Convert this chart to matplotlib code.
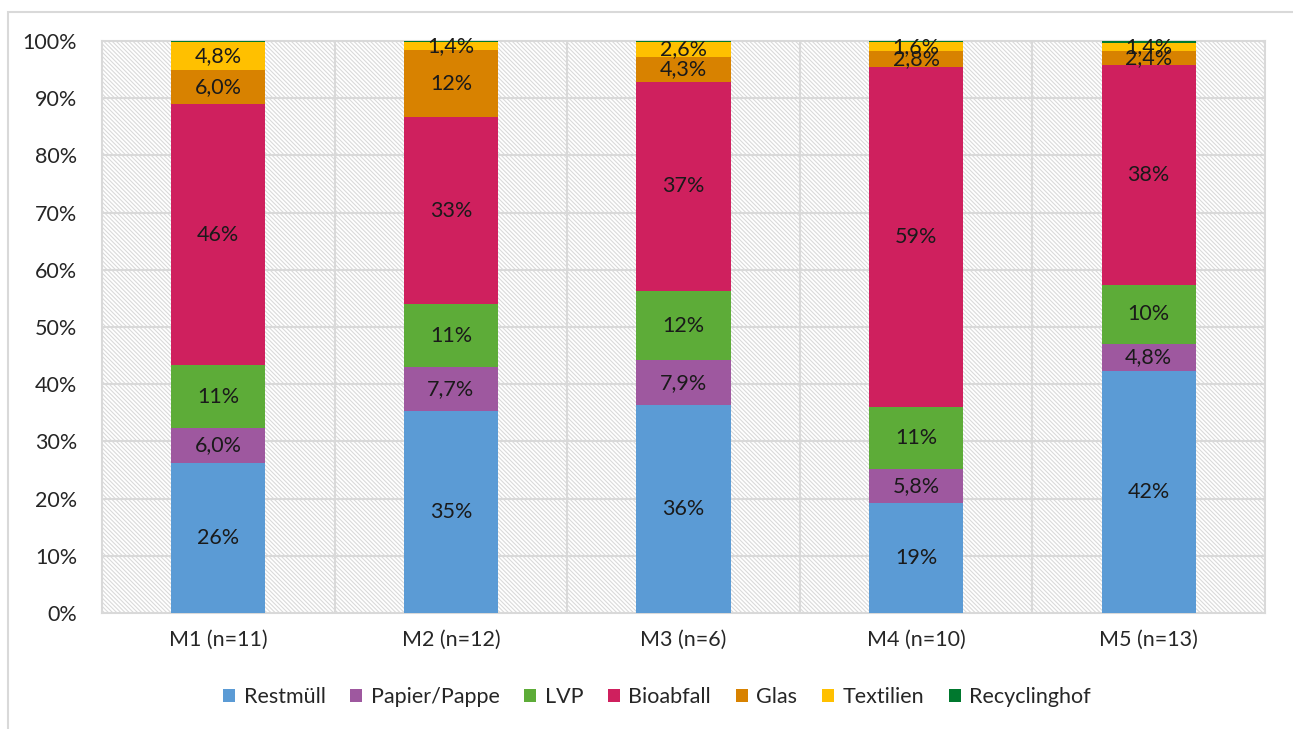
import matplotlib.pyplot as plt
import numpy as np
from matplotlib.patches import Rectangle

plt.rcParams['font.family'] = ['Lato', 'DejaVu Sans']
plt.rcParams['hatch.linewidth'] = 0.8

gruppen = ['M1 (n=11)', 'M2 (n=12)', 'M3 (n=6)', 'M4 (n=10)', 'M5 (n=13)']
fraktionen = ['Restmüll', 'Papier/Pappe', 'LVP', 'Bioabfall', 'Glas', 'Textilien', 'Recyclinghof']
farben = ['#5b9bd5', '#9e589f', '#5dac38', '#cf205e', '#d88200', '#ffc000', '#00782e']

# Anteile in %, je Gruppe M1..M5
restmuell = [26.3, 35.3, 36.3, 19.3, 42.3]
papier = [6.0, 7.7, 7.9, 5.8, 4.8]
lvp = [11.0, 11.0, 12.1, 10.9, 10.3]
bioabfall = [45.7, 32.7, 36.6, 59.4, 38.4]
glas = [6.0, 11.7, 4.3, 2.8, 2.4]
textilien = [4.8, 1.4, 2.6, 1.6, 1.4]
recyclinghof = [0.2, 0.2, 0.2, 0.2, 0.4]

werte = [restmuell, papier, lvp, bioabfall, glas, textilien, recyclinghof]

def fmt(v):
    # wie Excel: ab 10 % ohne Nachkommastelle, sonst mit Komma
    if v >= 9.95:
        return '{:.0f}%'.format(v)
    return '{:.1f}%'.format(v).replace('.', ',')

fig = plt.figure(figsize=(12.93, 7.29), dpi=100)
# Rahmen des Diagramms
fig.patches.append(Rectangle((8 / 1293, -0.05), 1.1, 1 - 12 / 729 + 0.05,
                             transform=fig.transFigure, fill=False,
                             edgecolor='#d9d9d9', linewidth=1.5))

ax = fig.add_axes([102 / 1293, 1 - 613 / 729, 1163 / 1293, 572 / 729])
ax.set_xlim(-0.5, 4.5)
ax.set_ylim(0, 100)

# schraffierter Hintergrund der Zeichenfläche
ax.add_patch(Rectangle((0, 0), 1, 1, transform=ax.transAxes, facecolor='white',
                       edgecolor='#dadada', linewidth=0, hatch='\\' * 8, zorder=0))
for yv in range(10, 100, 10):
    ax.axhline(yv, color='#d9d9d9', linewidth=1.5, zorder=1)
for xv in np.arange(0.5, 4.5, 1):
    ax.axvline(xv, color='#d9d9d9', linewidth=1.5, zorder=1)

x = np.arange(len(gruppen))
unten = np.zeros(len(gruppen))
for name, farbe, reihe in zip(fraktionen, farben, werte):
    reihe = np.array(reihe)
    ax.bar(x, reihe, 0.405, bottom=unten, color=farbe, label=name, zorder=3)
    if name != 'Recyclinghof':
        for xi, b, v in zip(x, unten, reihe):
            ax.text(xi, b + v / 2, fmt(v), ha='center', va='center',
                    fontsize=15.5, color='#1a1a1a', zorder=4)
    unten += reihe

ax.set_xticks(x)
ax.set_xticklabels(gruppen, fontsize=15.5, color='#262626')
ax.set_yticks(range(0, 101, 10))
ax.set_yticklabels(['{}%'.format(v) for v in range(0, 101, 10)], fontsize=15.5, color='#262626')
ax.tick_params(length=0, pad=12)
ax.tick_params(axis='y', pad=18)
for s in ax.spines.values():
    s.set_color('#d9d9d9')
    s.set_linewidth(1.5)

leg = fig.legend(loc='center', bbox_to_anchor=(657 / 1293, 1 - 697 / 729), ncol=7,
                 frameon=False, fontsize=15.5, handlelength=0.55, handleheight=0.55,
                 handletextpad=0.4, columnspacing=1.15)
for t in leg.get_texts():
    t.set_color('#262626')

fig.savefig('out.png', dpi=100)
